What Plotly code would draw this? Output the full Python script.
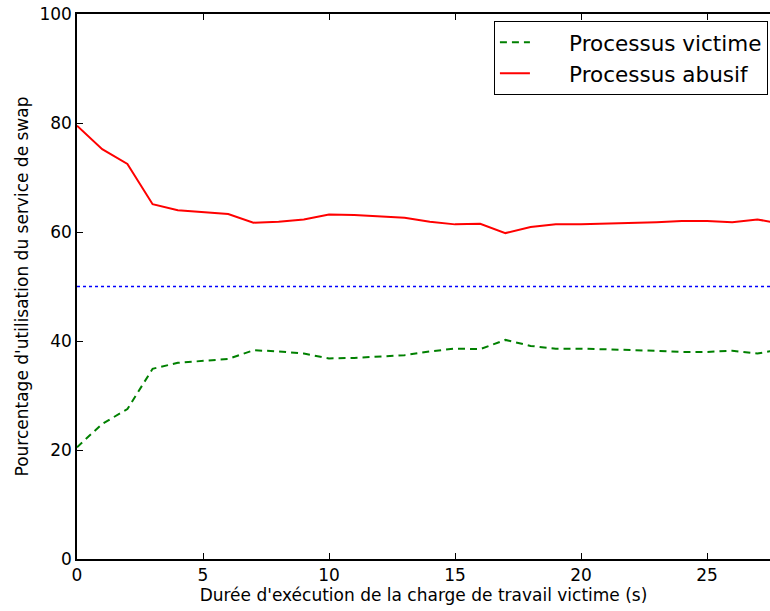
import plotly.graph_objects as go

time_s = list(range(0, 29))
abusif = [79.5, 75.2, 72.5, 65.1, 64.0, 63.7, 63.3, 61.7, 61.9, 62.3, 63.2, 63.1, 62.8, 62.6,
          61.9, 61.4, 61.5, 59.8, 60.9, 61.4, 61.4, 61.5, 61.6, 61.8, 62.0, 62.0, 61.8, 62.3, 61.5]
victime = [20.5, 24.8, 27.5, 34.9, 36.0, 36.3, 36.7, 38.3, 38.1, 37.7, 36.8, 36.9, 37.2, 37.4,
           38.1, 38.6, 38.5, 40.2, 39.1, 38.6, 38.6, 38.5, 38.4, 38.2, 38.0, 38.0, 38.2, 37.7, 38.5]
fair_share = 50
x_ticks = [0, 5, 10, 15, 20, 25]
y_ticks = [0, 20, 40, 60, 80, 100]
series_names = ["Processus victime", "Processus abusif"]

font_family = "DejaVu Sans"
pad = "\u00a0" * 5

fig = go.Figure()
fig.add_trace(go.Scatter(x=time_s, y=victime, mode="lines", name=pad + series_names[0],
                         line=dict(color="#008000", width=2, dash="7px,5px")))
fig.add_trace(go.Scatter(x=time_s, y=abusif, mode="lines", name=pad + series_names[1],
                         line=dict(color="#ff0000", width=2)))
fig.add_hline(y=fair_share, line=dict(color="#0000ff", width=1.3, dash="dot"), layer="below")

fig.update_layout(
    width=770, height=611,
    margin=dict(l=77, r=0, t=14, b=52),
    plot_bgcolor="white", paper_bgcolor="white",
    font=dict(family=font_family, size=17, color="black"),
    showlegend=True,
    legend=dict(x=0.997, y=0.9875, xanchor="right", yanchor="top",
                bordercolor="black", borderwidth=1, bgcolor="white",
                font=dict(size=21.5, family=font_family)),
    xaxis=dict(range=[0, 27.5], tickvals=x_ticks, ticks="inside", ticklen=6,
               tickcolor="black", showline=True, linecolor="black", linewidth=1.5,
               mirror="ticks", showgrid=False, zeroline=False,
               title=dict(text="Durée d'exécution de la charge de travail victime (s)",
                          standoff=4, font=dict(size=17))),
    yaxis=dict(range=[0, 100], tickvals=y_ticks, ticks="inside", ticklen=6,
               tickcolor="black", showline=True, linecolor="black", linewidth=1.5,
               showgrid=False, zeroline=False, ticklabeloverflow="allow",
               title=dict(text="Pourcentage d'utilisation du service de swap",
                          standoff=6, font=dict(size=17))),
)

fig.write_html("out.html", config={"displayModeBar": False},
               post_script="document.body.style.margin='0';")
